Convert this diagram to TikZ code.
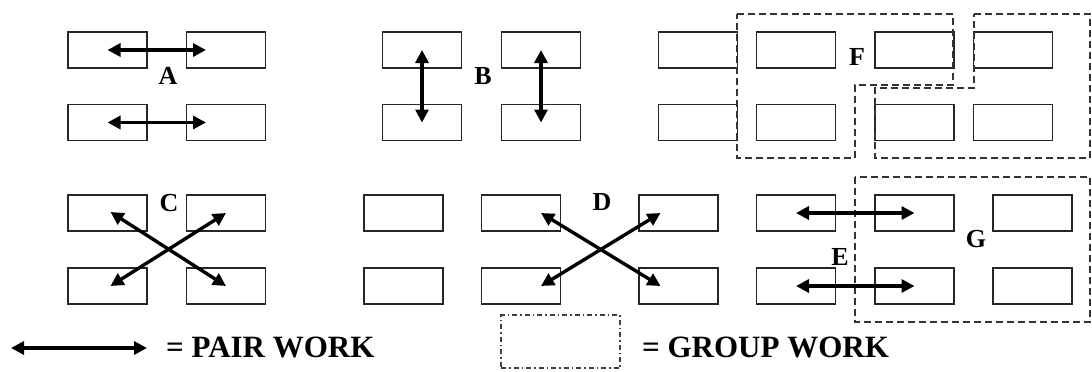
\documentclass[tikz,border=0pt]{standalone}
\usepackage{fontspec}
\setmainfont{Liberation Serif}
\usetikzlibrary{arrows.meta,calc}
\begin{document}
\begin{tikzpicture}[x=1pt,y=-1pt,
  desk/.style={draw=black!85, line width=1.8pt, minimum width=79pt, minimum height=36pt, inner sep=0pt, outer sep=0pt},
  pair/.style={line width=3.4pt, {Triangle[length=13pt,width=13pt]}-{Triangle[length=13pt,width=13pt]}},
  grp/.style={draw=black!80, line width=1.9pt, dash pattern=on 7pt off 4pt},
  grpkey/.style={draw=black!75, line width=1.4pt, dash pattern=on 5pt off 3pt on 1.5pt off 3pt},
  lbl/.style={font=\fontsize{26}{26}\selectfont\bfseries, inner sep=0pt},
  keytxt/.style={font=\fontsize{31}{31}\selectfont\bfseries, inner sep=0pt, anchor=west}]
\useasboundingbox (0,0) rectangle (1092,372);

% ---------- top block ----------
\foreach \n/\x in {a1/107.5,a2/226,b1/422,b2/541,f1/698,f2/796,f3/914.5,f4/1013}{
  \node[desk] (\n u) at (\x,50) {};
  \node[desk] (\n d) at (\x,122.5) {};
}
% ---------- bottom block ----------
\foreach \n/\x in {c1/107.5,c2/226,d0/403.5,d1/521,d2/678.5,e1/796,e2/914.5,g3/1032.5}{
  \node[desk] (\n u) at (\x,213) {};
  \node[desk] (\n d) at (\x,286) {};
}

% group outlines
\draw[grp] (737,14) -- (953,14) -- (953,85) -- (855,85) -- (855,158) -- (737,158) -- cycle;
\draw[grp] (974,14) -- (1090,14) -- (1090,158) -- (875,158) -- (875,88) -- (974,88) -- cycle;
\draw[grp] (855,177) rectangle (1090,322);

% pair arrows
\draw[pair] (a1u.center) -- ([xshift=-20pt]a2u.center);
\draw[pair] (a1d.center) -- ([xshift=-20pt]a2d.center);
\draw[pair] (b1u.center) -- (b1d.center);
\draw[pair] (b2u.center) -- (b2d.center);
\draw[pair] ([xshift=3pt,yshift=1pt]c1u.center) -- (c2d.center);
\draw[pair] ([xshift=3pt]c1d.center) -- (c2u.center);
\draw[pair] ([xshift=20pt]d1u.center) -- ([xshift=-18pt]d2d.center);
\draw[pair] ([xshift=20pt]d1d.center) -- ([xshift=-18pt]d2u.center);
\draw[pair] (e1u.center) -- (e2u.center);
\draw[pair] (e1d.center) -- (e2d.center);

% labels
\node[lbl] (A) at (168,76) {A};
\node[lbl] (B) at (483,76) {B};
\node[lbl] (F) at (857,57) {F};
\node[lbl] (C) at (169,203) {C};
\node[lbl] (D) at (602,202) {D};
\node[lbl] (E) at (840,257) {E};
\node[lbl] (G) at (976,239) {G};

% key
\coordinate (ka) at (11,348);
\coordinate (kb) at (147,348);
\draw[pair] (ka) -- (kb);
\node[keytxt] (kp) at (166,347) {= PAIR WORK};
\node[grpkey, minimum width=119pt, minimum height=53pt, inner sep=0pt] (kg) at (560.5,341.5) {};
\node[keytxt] (kgt) at (642,347) {= GROUP WORK};
\end{tikzpicture}
\end{document}
